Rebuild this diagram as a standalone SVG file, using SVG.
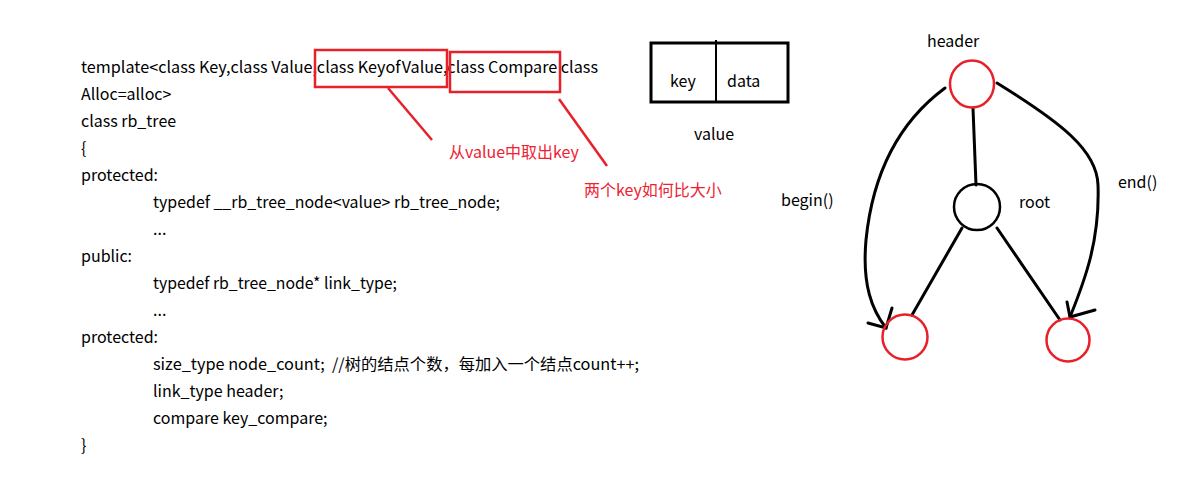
<svg xmlns="http://www.w3.org/2000/svg" width="1200" height="478" viewBox="0 0 1200 478">
<style>
.t{font-family:"Noto Sans CJK SC","Liberation Sans",sans-serif;font-size:16px;fill:#000}
.r{font-family:"Noto Sans CJK SC","Liberation Sans",sans-serif;font-size:16px;fill:#ee2233}
.rb{fill:none;stroke:#e8202a;stroke-width:2.5}
.bl{fill:none;stroke:#000;stroke-width:3;stroke-linecap:round}
.rc{fill:none;stroke:#e8202a;stroke-width:2.5}
</style>
<rect width="1200" height="478" fill="#fff"/>
<g id="code">
<text class="t" x="81" y="73" textLength="517" lengthAdjust="spacingAndGlyphs">template&lt;class Key,class Value,class KeyofValue,class Compare class</text>
<text class="t" x="81" y="100">Alloc=alloc&gt;</text>
<text class="t" x="81" y="127">class rb_tree</text>
<text class="t" x="81" y="154">{</text>
<text class="t" x="81" y="181">protected:</text>
<text class="t" x="153" y="208" textLength="347" lengthAdjust="spacingAndGlyphs">typedef __rb_tree_node&lt;value&gt; rb_tree_node;</text>
<text class="t" x="153" y="235">...</text>
<text class="t" x="81" y="262">public:</text>
<text class="t" x="153" y="289" textLength="244" lengthAdjust="spacingAndGlyphs">typedef rb_tree_node* link_type;</text>
<text class="t" x="153" y="316">...</text>
<text class="t" x="81" y="343">protected:</text>
<text class="t" x="153" y="370" textLength="486" lengthAdjust="spacingAndGlyphs" xml:space="preserve">size_type node_count;  //树的结点个数，每加入一个结点count++;</text>
<text class="t" x="153" y="397">link_type header;</text>
<text class="t" x="153" y="424">compare key_compare;</text>
<text class="t" x="81" y="451">}</text>
</g>
<g id="annotations">
<rect class="rb" x="315" y="50" width="132" height="37"/>
<rect class="rb" x="450" y="52" width="110" height="40"/>
<line class="rb" x1="388" y1="88" x2="432" y2="140"/>
<line class="rb" x1="559" y1="99" x2="607" y2="166"/>
<text class="r" x="449" y="158">从value中取出key</text>
<text class="r" x="584" y="196">两个key如何比大小</text>
</g>
<g id="value-box">
<rect x="651" y="43" width="137" height="59" fill="none" stroke="#000" stroke-width="3"/>
<line x1="716" y1="40" x2="716" y2="102" stroke="#000" stroke-width="2"/>
<text class="t" x="670" y="87">key</text>
<text class="t" x="727" y="87">data</text>
<text class="t" x="694" y="140">value</text>
</g>
<g id="connectors">
<line class="bl" x1="973" y1="108" x2="976" y2="185"/>
<line class="bl" x1="962" y1="228" x2="912" y2="315"/>
<line class="bl" x1="997" y1="228" x2="1060" y2="320"/>
<path class="bl" d="M945,88 C895,125 872,180 866,240 C862,285 872,310 886,328"/>
<path class="bl" d="M868,323 L886,328 L892,308"/>
<path class="bl" d="M997,83 C1060,122 1097,150 1098,185 C1100,240 1085,280 1070,317"/>
<path class="bl" d="M1067,302 L1070,317 L1095,310"/>
</g>
<g id="header">
<ellipse class="rc" cx="972" cy="84" rx="22" ry="23.5"/>
<text class="t" x="927" y="47">header</text>
</g>
<g id="root">
<circle cx="977" cy="207" r="23" fill="none" stroke="#000" stroke-width="2.5"/>
<text class="t" x="1019" y="208">root</text>
</g>
<g id="left-leaf">
<circle class="rc" cx="905" cy="337" r="22.5"/>
</g>
<g id="right-leaf">
<circle class="rc" cx="1068" cy="340" r="21.5"/>
</g>
<g id="labels">
<text class="t" x="781" y="206">begin()</text>
<text class="t" x="1118" y="188">end()</text>
</g>
</svg>
